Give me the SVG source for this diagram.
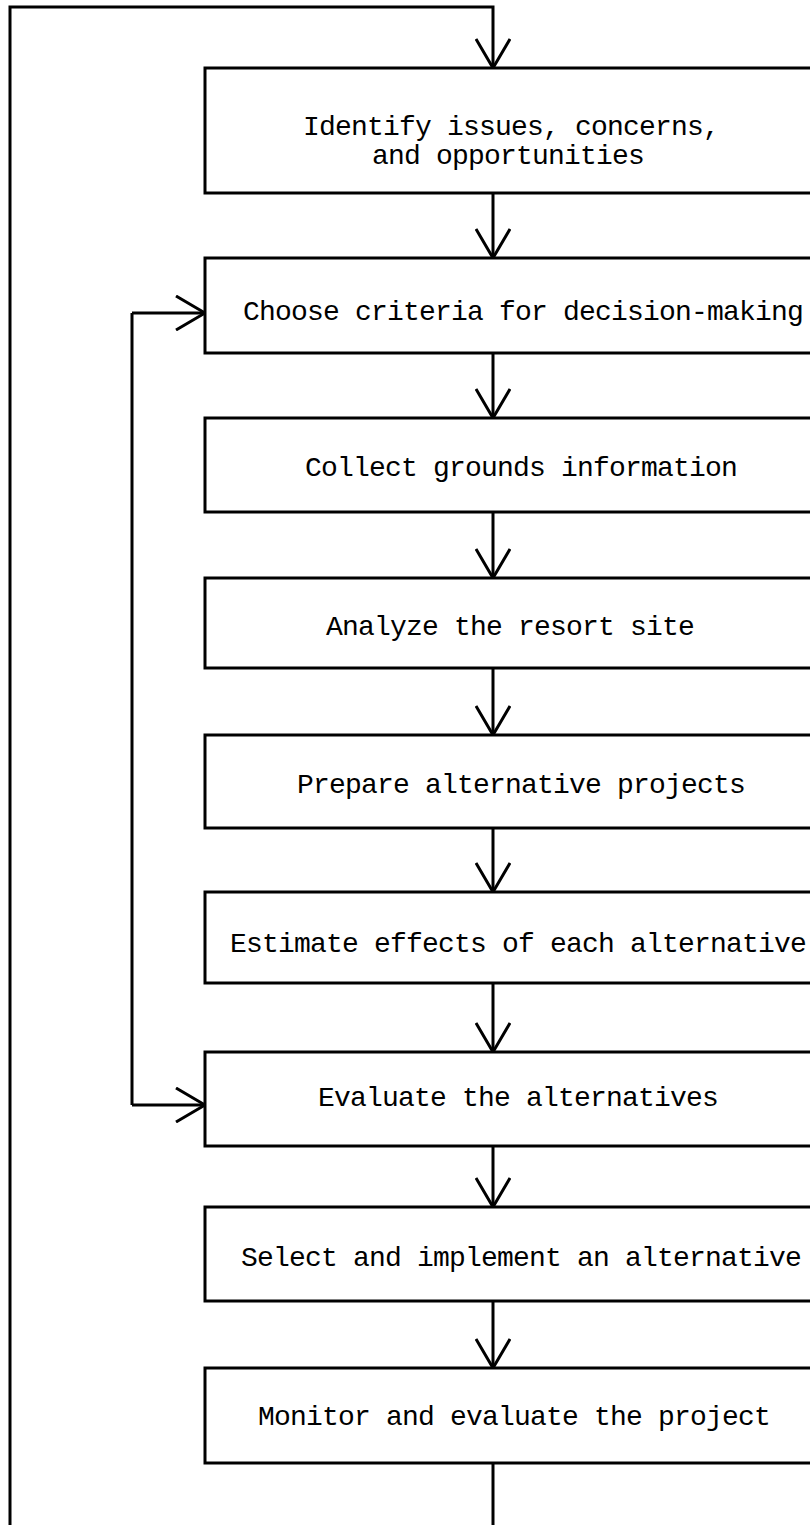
<svg xmlns="http://www.w3.org/2000/svg" width="810" height="1525" viewBox="0 0 810 1525">
<style>
.box{fill:#fff;stroke:#000;stroke-width:3}
.con{fill:none;stroke:#000;stroke-width:3}
.lbl{font-family:"Liberation Mono","DejaVu Sans Mono",monospace;font-size:28px;letter-spacing:-0.8px;fill:#000}
</style>
<defs>
<marker id="v" markerUnits="userSpaceOnUse" viewBox="0 0 32 36" markerWidth="32" markerHeight="36" refX="30" refY="18" orient="auto">
<path d="M1,1 L30,18 L1,35" fill="none" stroke="#000" stroke-width="3"/>
</marker>
</defs>
<rect width="810" height="1525" fill="#fff"/>
<g id="connectors">
<path class="con" d="M10,1525 L10,7 L493,7 L493,68" marker-end="url(#v)"/>
<path class="con" d="M493,193 L493,258" marker-end="url(#v)"/>
<path class="con" d="M493,353 L493,418" marker-end="url(#v)"/>
<path class="con" d="M493,512 L493,578" marker-end="url(#v)"/>
<path class="con" d="M493,668 L493,735" marker-end="url(#v)"/>
<path class="con" d="M493,828 L493,892" marker-end="url(#v)"/>
<path class="con" d="M493,983 L493,1052" marker-end="url(#v)"/>
<path class="con" d="M493,1146 L493,1207" marker-end="url(#v)"/>
<path class="con" d="M493,1301 L493,1368" marker-end="url(#v)"/>
<path class="con" d="M493,1463 L493,1525"/>
<path class="con" d="M132,313 L205,313" marker-end="url(#v)"/>
<path class="con" d="M132,1105 L205,1105" marker-end="url(#v)"/>
<path class="con" d="M132,313 L132,1105"/>
</g>
<g id="n1"><rect class="box" x="205" y="68" width="630" height="125"/>
<text class="lbl" x="303" y="135">Identify issues, concerns,</text>
<text class="lbl" x="372" y="164">and opportunities</text></g>
<g id="n2"><rect class="box" x="205" y="258" width="630" height="95"/>
<text class="lbl" x="243" y="320">Choose criteria for decision-making</text></g>
<g id="n3"><rect class="box" x="205" y="418" width="630" height="94"/>
<text class="lbl" x="305" y="476">Collect grounds information</text></g>
<g id="n4"><rect class="box" x="205" y="578" width="630" height="90"/>
<text class="lbl" x="326" y="635">Analyze the resort site</text></g>
<g id="n5"><rect class="box" x="205" y="735" width="630" height="93"/>
<text class="lbl" x="297" y="793">Prepare alternative projects</text></g>
<g id="n6"><rect class="box" x="205" y="892" width="630" height="91"/>
<text class="lbl" x="230" y="952">Estimate effects of each alternative</text></g>
<g id="n7"><rect class="box" x="205" y="1052" width="630" height="94"/>
<text class="lbl" x="318" y="1106">Evaluate the alternatives</text></g>
<g id="n8"><rect class="box" x="205" y="1207" width="630" height="94"/>
<text class="lbl" x="241" y="1266">Select and implement an alternative</text></g>
<g id="n9"><rect class="box" x="205" y="1368" width="630" height="95"/>
<text class="lbl" x="258" y="1425">Monitor and evaluate the project</text></g>
</svg>
